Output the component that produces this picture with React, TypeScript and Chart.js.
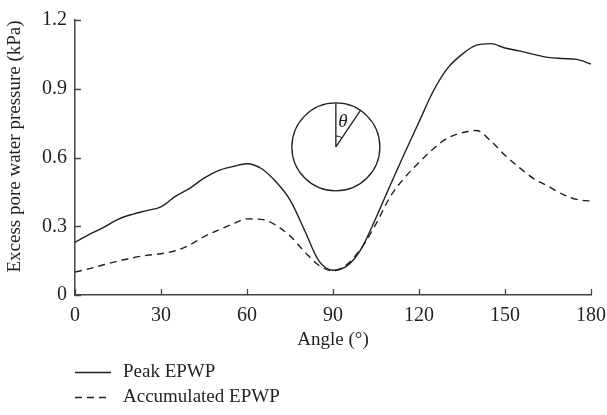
import React, { useEffect, useRef } from "react";
import { Chart, registerables } from "chart.js";

Chart.register(...registerables);

// Angle around the pile (degrees)
const angles = [
  0, 5, 10, 15, 20, 25, 30, 35, 40, 45, 50, 55, 60, 65, 70, 75, 80, 85, 90,
  95, 100, 105, 110, 115, 120, 125, 130, 135, 140, 145, 150, 155, 160, 165,
  170, 175, 180,
];

// Peak excess pore water pressure (kPa)
const peakEPWP = [
  0.23, 0.265, 0.295, 0.33, 0.352, 0.368, 0.385, 0.43, 0.465, 0.51, 0.543,
  0.56, 0.573, 0.552, 0.495, 0.415, 0.285, 0.15, 0.108, 0.128, 0.205, 0.337,
  0.48, 0.62, 0.755, 0.89, 0.99, 1.05, 1.09, 1.097, 1.078, 1.065, 1.05,
  1.037, 1.032, 1.028, 1.008,
];

// Accumulated excess pore water pressure (kPa)
const accumulatedEPWP = [
  0.1, 0.115, 0.132, 0.148, 0.162, 0.173, 0.18, 0.193, 0.218, 0.255, 0.283,
  0.31, 0.332, 0.33, 0.305, 0.258, 0.19, 0.13, 0.105, 0.135, 0.207, 0.31,
  0.43, 0.512, 0.578, 0.638, 0.685, 0.708, 0.718, 0.673, 0.61, 0.556, 0.508,
  0.475, 0.44, 0.417, 0.41,
];

const xTickValues = [0, 30, 60, 90, 120, 150, 180];
const yTickValues = [0, 0.3, 0.6, 0.9, 1.2];
const seriesLabels = ["Peak EPWP", "Accumulated EPWP"];
const xTitle = "Angle (°)";
const yTitle = "Excess pore water pressure (kPa)";
const insetLabel = "θ";

const FONT = '"Liberation Serif", "Times New Roman", serif';
const INK = "#231f20";
const AXIS = "#444444";
const DASH = [7, 5];

const decorations = {
  id: "decorations",
  afterDraw(chart: any) {
    const ctx = chart.ctx as CanvasRenderingContext2D;
    const { chartArea } = chart;
    const xs = chart.scales.x;
    const ys = chart.scales.y;
    ctx.save();

    // inward tick marks
    ctx.strokeStyle = AXIS;
    ctx.lineWidth = 1.3;
    ctx.beginPath();
    for (const v of yTickValues) {
      const py = Math.round(ys.getPixelForValue(v)) + 0.5;
      ctx.moveTo(chartArea.left, py);
      ctx.lineTo(chartArea.left + 6, py);
    }
    for (const v of xTickValues) {
      const px = Math.round(xs.getPixelForValue(v)) + 0.5;
      ctx.moveTo(px, chartArea.bottom);
      ctx.lineTo(px, chartArea.bottom - 6);
    }
    ctx.stroke();

    // axis titles
    ctx.fillStyle = INK;
    ctx.font = `19px ${FONT}`;
    ctx.textAlign = "center";
    ctx.textBaseline = "middle";
    ctx.fillText(xTitle, (chartArea.left + chartArea.right) / 2, 340);
    ctx.save();
    ctx.translate(15, (chartArea.top + chartArea.bottom) / 2 - 11);
    ctx.rotate(-Math.PI / 2);
    ctx.fillText(yTitle, 0, 0);
    ctx.restore();

    // legend
    const legendRows = [
      { y: 372, dash: [] as number[] },
      { y: 397, dash: DASH },
    ];
    ctx.textAlign = "left";
    legendRows.forEach((row, i) => {
      ctx.strokeStyle = INK;
      ctx.lineWidth = 1.3;
      ctx.setLineDash(row.dash);
      ctx.beginPath();
      ctx.moveTo(75, row.y + 0.5);
      ctx.lineTo(111, row.y + 0.5);
      ctx.stroke();
      ctx.setLineDash([]);
      ctx.fillText(seriesLabels[i], 123, row.y);
    });

    // inset sketch: pile cross-section with angle θ
    const cx = xs.getPixelForValue(91);
    const cy = ys.getPixelForValue(0.646);
    const r = 44;
    const theta = (34 * Math.PI) / 180;
    ctx.strokeStyle = INK;
    ctx.lineWidth = 1.3;
    ctx.beginPath();
    ctx.arc(cx, cy, r, 0, Math.PI * 2);
    ctx.stroke();
    ctx.beginPath();
    ctx.moveTo(cx, cy);
    ctx.lineTo(cx, cy - r);
    ctx.moveTo(cx, cy);
    ctx.lineTo(cx + r * Math.sin(theta), cy - r * Math.cos(theta));
    ctx.stroke();
    ctx.lineWidth = 1;
    ctx.beginPath();
    ctx.arc(cx, cy, 11, -Math.PI / 2, -Math.PI / 2 + theta);
    ctx.stroke();
    ctx.font = `italic 19px ${FONT}`;
    ctx.textAlign = "center";
    ctx.fillText(insetLabel, cx + 7, cy - 25);

    ctx.restore();
  },
};

export default function App() {
  const canvasRef = useRef<HTMLCanvasElement | null>(null);

  useEffect(() => {
    document.body.style.margin = "0";
    const canvas = canvasRef.current;
    if (!canvas) return;

    const chart = new Chart(canvas, {
      type: "line",
      data: {
        datasets: [
          {
            label: seriesLabels[0],
            data: angles.map((a, i) => ({ x: a, y: peakEPWP[i] })),
            borderColor: INK,
            borderWidth: 1.4,
            pointRadius: 0,
            cubicInterpolationMode: "monotone",
            fill: false,
          },
          {
            label: seriesLabels[1],
            data: angles.map((a, i) => ({ x: a, y: accumulatedEPWP[i] })),
            borderColor: INK,
            borderWidth: 1.4,
            borderDash: DASH,
            pointRadius: 0,
            cubicInterpolationMode: "monotone",
            fill: false,
          },
        ],
      },
      options: {
        responsive: false,
        animation: false,
        events: [],
        layout: { padding: { left: 0, right: 16, top: 20, bottom: 80 } },
        plugins: {
          legend: { display: false },
          tooltip: { enabled: false },
        },
        scales: {
          x: {
            type: "linear",
            min: 0,
            max: 180,
            grid: { display: false, drawTicks: false },
            border: { display: true, color: AXIS, width: 1.5 },
            afterBuildTicks: (scale: any) => {
              scale.ticks = xTickValues.map((v) => ({ value: v }));
            },
            afterFit: (scale: any) => {
              scale.height = 40;
              scale.paddingLeft = 0;
              scale.paddingRight = 0;
            },
            ticks: {
              color: INK,
              padding: 9,
              maxRotation: 0,
              font: { family: FONT, size: 20 },
              callback: (v: any) => String(v),
            },
          },
          y: {
            min: 0,
            max: 1.2,
            grid: { display: false, drawTicks: false },
            border: { display: true, color: AXIS, width: 1.5 },
            afterBuildTicks: (scale: any) => {
              scale.ticks = yTickValues.map((v) => ({ value: v }));
            },
            afterFit: (scale: any) => {
              scale.width = 75;
              scale.paddingTop = 0;
              scale.paddingBottom = 0;
            },
            ticks: {
              color: INK,
              padding: 8,
              font: { family: FONT, size: 20 },
              callback: (v: any) => (Number(v) === 0 ? "0" : Number(v).toFixed(1)),
            },
          },
        },
      },
      plugins: [decorations],
    });

    return () => chart.destroy();
  }, []);

  return (
    <div style={{ width: 607, height: 415 }}>
      <canvas ref={canvasRef} width={607} height={415} />
    </div>
  );
}
